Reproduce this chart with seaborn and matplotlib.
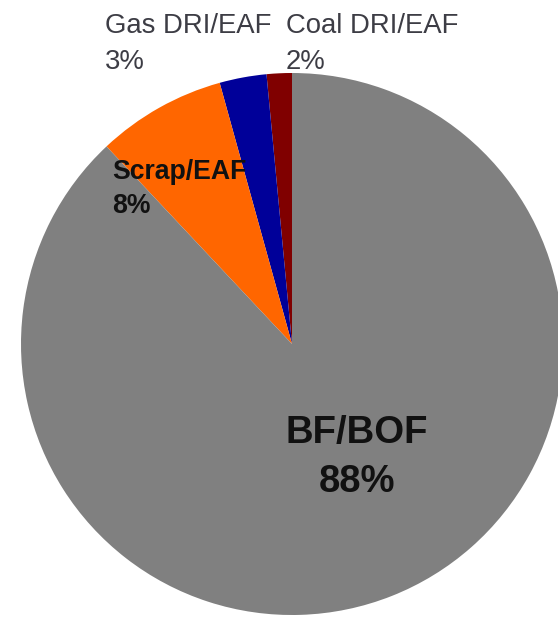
import matplotlib
matplotlib.use("Agg")
import matplotlib.pyplot as plt
import seaborn as sns

sns.set_theme(style="white")
plt.rcParams['font.family'] = ['Liberation Sans', 'DejaVu Sans']

# Data (counter-clockwise from 12 o'clock)
routes = ["Coal DRI/EAF", "Gas DRI/EAF", "Scrap/EAF", "BF/BOF"]
shares = [1.5, 2.8, 7.7, 88.0]
pct_labels = ["2%", "3%", "8%", "88%"]
colors = ["#800000", "#000099", "#FF6600", "#808080"]

W, H = 558, 621
fig = plt.figure(figsize=(W / 100, H / 100), dpi=100)
ax = fig.add_axes([0, 0, 1, 1])

cx, cy, r = 292, 344, 271  # pixel centre / radius of the pie
ax.pie(shares, colors=colors, startangle=90, counterclock=True,
       wedgeprops=dict(linewidth=0, antialiased=True))
ax.set_aspect('auto')
ax.set_xlim(-cx / r, (W - cx) / r)
ax.set_ylim((cy - H) / r, cy / r)
ax.axis('off')

def px(x, y):
    return x / W, 1 - y / H

# label styles: (left/centre x, name baseline, pct baseline, ha, size, weight, colour)
label_pos = {
    "Coal DRI/EAF": (286, 33, 69, 'left', 19.8, 'normal', '#3d3d45'),
    "Gas DRI/EAF": (105, 33, 69, 'left', 19.8, 'normal', '#3d3d45'),
    "Scrap/EAF": (112, 179, 213, 'left', 19.2, 'bold', '#111111'),
    "BF/BOF": (357, 443, 492, 'center', 27.5, 'bold', '#111111'),
}

for name, pct in zip(routes, pct_labels):
    x, yb1, yb2, ha, size, weight, col = label_pos[name]
    fig.text(*px(x, yb1), name, ha=ha, va='baseline', fontsize=size,
             fontweight=weight, color=col)
    fig.text(*px(x, yb2), pct, ha=ha, va='baseline', fontsize=size,
             fontweight=weight, color=col)

fig.savefig("out.png", dpi=100, facecolor='white')
